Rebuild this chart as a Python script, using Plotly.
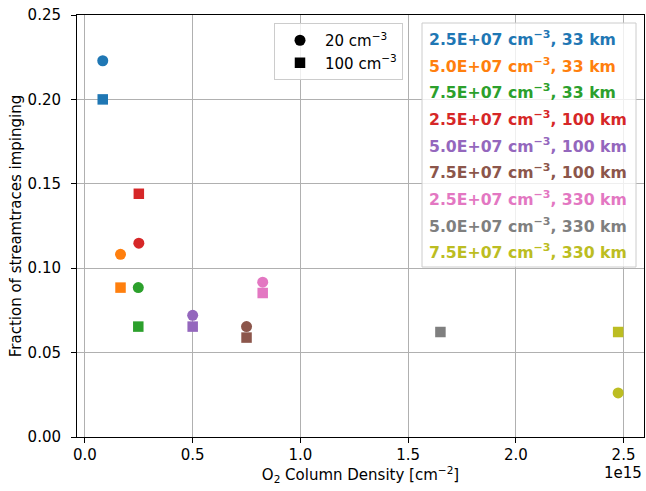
import plotly.graph_objects as go

# ---------------- data ----------------
labels = [
    "2.5E+07 cm<sup>−3</sup>, 33 km",
    "5.0E+07 cm<sup>−3</sup>, 33 km",
    "7.5E+07 cm<sup>−3</sup>, 33 km",
    "2.5E+07 cm<sup>−3</sup>, 100 km",
    "5.0E+07 cm<sup>−3</sup>, 100 km",
    "7.5E+07 cm<sup>−3</sup>, 100 km",
    "2.5E+07 cm<sup>−3</sup>, 330 km",
    "5.0E+07 cm<sup>−3</sup>, 330 km",
    "7.5E+07 cm<sup>−3</sup>, 330 km",
]
colors = ["#1f77b4", "#ff7f0e", "#2ca02c", "#d62728", "#9467bd",
          "#8c564b", "#e377c2", "#7f7f7f", "#bcbd22"]
column_density = [8.25e13, 1.65e14, 2.475e14, 2.5e14, 5.0e14,
                  7.5e14, 8.25e14, 1.65e15, 2.475e15]
frac_20 = [0.2229, 0.1082, 0.0885, 0.1148, 0.0721, 0.0654, 0.0917, None, 0.0261]
frac_100 = [0.2000, 0.0885, 0.0654, 0.1441, 0.0654, 0.0589, 0.0853, 0.0622, 0.0622]

x_tickvals = [0, 0.5e15, 1.0e15, 1.5e15, 2.0e15, 2.5e15]
x_ticktext = ["0.0", "0.5", "1.0", "1.5", "2.0", "2.5"]
y_tickvals = [0, 0.05, 0.10, 0.15, 0.20, 0.25]
y_ticktext = ["0.00", "0.05", "0.10", "0.15", "0.20", "0.25"]

FONT = "DejaVu Sans"
FS = 15

fig = go.Figure()

fig.add_trace(go.Scatter(
    x=column_density, y=frac_20, mode="markers",
    marker=dict(symbol="circle", size=11, color=colors, line=dict(width=0)),
    showlegend=False, hoverinfo="x+y"))
fig.add_trace(go.Scatter(
    x=column_density, y=frac_100, mode="markers",
    marker=dict(symbol="square", size=10.5, color=colors, line=dict(width=0)),
    showlegend=False, hoverinfo="x+y"))

# legend entries for the two background densities
fig.add_trace(go.Scatter(x=[None], y=[None], mode="markers", name="20 cm<sup>−3</sup>",
                         marker=dict(symbol="circle", size=11, color="black")))
fig.add_trace(go.Scatter(x=[None], y=[None], mode="markers", name="100 cm<sup>−3</sup>",
                         marker=dict(symbol="square", size=10.5, color="black")))

# plot area in pixels: left 77, right 644, top 15, bottom 437
L, R, T, B = 77, 644, 15, 437
W, H = R - L, B - T

def px(xp):
    return (xp - L) / W

def py(yp):
    return (B - yp) / H

annotations = []
shapes = []

# coloured text legend
shapes.append(dict(type="rect", xref="paper", yref="paper",
                   x0=px(422), x1=px(636), y0=py(267), y1=py(23),
                   fillcolor="rgba(255,255,255,0.8)",
                   line=dict(color="#cccccc", width=1), layer="above"))
for i, (lab, c) in enumerate(zip(labels, colors)):
    annotations.append(dict(
        xref="paper", yref="paper", x=px(427), y=py(38.5 + 26.65 * i),
        xanchor="left", yanchor="middle", showarrow=False,
        text="<b>" + lab + "</b>", font=dict(family=FONT, size=15.7, color=c)))

annotations.append(dict(xref="paper", yref="paper", x=1.0, y=py(473),
                        xanchor="right", yanchor="middle", showarrow=False,
                        text="1e15", font=dict(family=FONT, size=FS, color="black")))

fig.update_layout(
    width=646, height=491,
    margin=dict(l=L, r=646 - R, t=T, b=491 - B),
    paper_bgcolor="white", plot_bgcolor="white",
    font=dict(family=FONT, size=FS, color="black"),
    showlegend=True,
    legend=dict(x=px(274), y=py(23), xanchor="left", yanchor="top",
                bgcolor="rgba(255,255,255,0.8)", bordercolor="#cccccc", borderwidth=1,
                font=dict(family=FONT, size=FS), tracegroupgap=0, itemwidth=40),
    annotations=annotations, shapes=shapes,
    xaxis=dict(range=[-0.037e15, 2.595e15], tickvals=x_tickvals, ticktext=x_ticktext,
               showgrid=True, gridcolor="#b0b0b0", gridwidth=1, zeroline=False,
               showline=True, linecolor="black", linewidth=1, mirror=True,
               ticks="outside", ticklen=5, tickcolor="black", ticklabelstandoff=-1,
               tickfont=dict(family=FONT, size=FS),
               title=dict(text="O<sub>2</sub> Column Density [cm<sup>−2</sup>]",
                          font=dict(family=FONT, size=FS), standoff=3),
               automargin=False),
    yaxis=dict(range=[0, 0.25], tickvals=y_tickvals, ticktext=y_ticktext,
               showgrid=True, gridcolor="#b0b0b0", gridwidth=1, zeroline=False,
               showline=True, linecolor="black", linewidth=1, mirror=True,
               ticks="outside", ticklen=5, tickcolor="black", ticklabelstandoff=7,
               tickfont=dict(family=FONT, size=FS),
               title=dict(text="Fraction of streamtraces impinging",
                          font=dict(family=FONT, size=FS), standoff=2),
               automargin=False),
)

fig.write_html("out.html")
